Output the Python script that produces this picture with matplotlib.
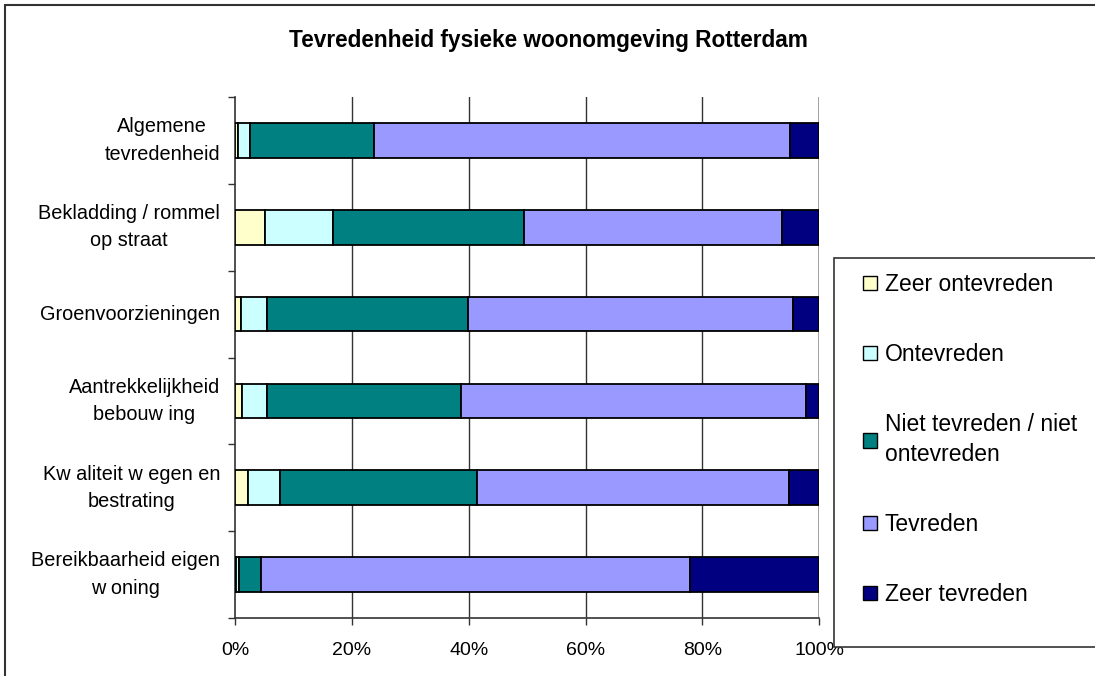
import matplotlib
matplotlib.use("Agg")
import matplotlib.pyplot as plt
from matplotlib.patches import Patch, Rectangle
import numpy as np

plt.rcParams['font.family'] = ['Liberation Sans', 'DejaVu Sans']

categories = [
    "Algemene\ntevredenheid",
    "Bekladding / rommel\nop straat",
    "Groenvoorzieningen",
    "Aantrekkelijkheid\nbebouw ing",
    "Kw aliteit w egen en\nbestrating",
    "Bereikbaarheid eigen\nw oning",
]
series_names = [
    "Zeer ontevreden",
    "Ontevreden",
    "Niet tevreden / niet\nontevreden",
    "Tevreden",
    "Zeer tevreden",
]
zeer_ontevreden = [0.5, 5.1, 0.9, 1.2, 2.2, 0.2]
ontevreden = [2.0, 11.6, 4.5, 4.2, 5.5, 0.5]
neutraal = [21.3, 32.8, 34.4, 33.2, 33.7, 3.7]
tevreden = [71.2, 44.1, 55.7, 59.2, 53.5, 73.5]
zeer_tevreden = [5.0, 6.4, 4.5, 2.2, 5.1, 22.1]
colors = ["#FFFFCC", "#CCFFFF", "#008080", "#9999FF", "#000080"]
x_ticks = [0, 20, 40, 60, 80, 100]
x_tick_labels = ["0%", "20%", "40%", "60%", "80%", "100%"]

W, H = 1095, 676
fig = plt.figure(figsize=(W / 100, H / 100), dpi=100)
ax = fig.add_axes([235.3 / W, 1 - 618 / H, (819 - 235.3) / W, (618 - 97) / H])

ypos = np.arange(len(categories))
left = np.zeros(len(categories))
for vals, col in zip([zeer_ontevreden, ontevreden, neutraal, tevreden, zeer_tevreden], colors):
    vals = np.array(vals, dtype=float)
    ax.barh(ypos, vals, left=left, height=0.4, color=col,
            edgecolor="black", linewidth=1.3, zorder=3)
    left += vals

ax.set_xlim(0, 100)
ax.set_ylim(len(categories) - 0.5, -0.5)

ax.set_xticks(x_ticks)
ax.set_xticklabels(x_tick_labels, fontsize=14)
ax.tick_params(axis="x", direction="out", length=5, width=1, pad=12, color="#333333")

ax.set_yticks(ypos)
ax.set_yticklabels(categories, fontsize=14.3)
ax.tick_params(axis="y", which="major", length=0, pad=11)
ax.set_yticks(np.arange(-0.5, len(categories)), minor=True)
ax.tick_params(axis="y", which="minor", direction="out", length=5, width=1, color="#333333")
# centre each (possibly two-line) label block on its bar
for lab in ax.get_yticklabels():
    lab.set_multialignment("center")
    lab.set_linespacing(1.55)
    lab.set_verticalalignment("center")

for xv in x_ticks[1:-1]:
    ax.axvline(xv, color="#333333", linewidth=1, zorder=1)
ax.axvline(100, color="#999999", linewidth=2, zorder=1)

for side in ["top", "right"]:
    ax.spines[side].set_visible(False)
ax.spines["left"].set_color("#333333")
ax.spines["bottom"].set_color("#333333")
ax.spines["left"].set_linewidth(1.2)
ax.spines["bottom"].set_linewidth(1.2)

fig.text(548 / W, 1 - 40 / H, "Tevredenheid fysieke woonomgeving Rotterdam",
         ha="center", va="center", fontsize=16.3, fontweight="bold")

# outer chart border
fig.patches.append(Rectangle((5 / W, -0.1), 1.2, 1 - 5 / H + 0.1, transform=fig.transFigure,
                             fill=False, edgecolor="#333333", linewidth=1.5, zorder=0))
# legend frame
fig.patches.append(Rectangle((834 / W, 1 - 647 / H), 1.0, (647 - 258) / H, transform=fig.transFigure,
                             facecolor="white", edgecolor="#333333", linewidth=1.2, zorder=1))

handles = [Patch(facecolor=c, edgecolor="black", linewidth=1) for c in colors]
leg = fig.legend(handles, series_names, loc="upper left",
                 bbox_to_anchor=(863 / W, 1 - 273 / H), frameon=False,
                 fontsize=16.5, labelspacing=2.06, handlelength=0.6, handleheight=0.6,
                 handletextpad=0.35, borderpad=0, borderaxespad=0)
for t in leg.get_texts():
    t.set_linespacing(1.35)
leg.set_zorder(5)

fig.savefig("out.png", dpi=100)
